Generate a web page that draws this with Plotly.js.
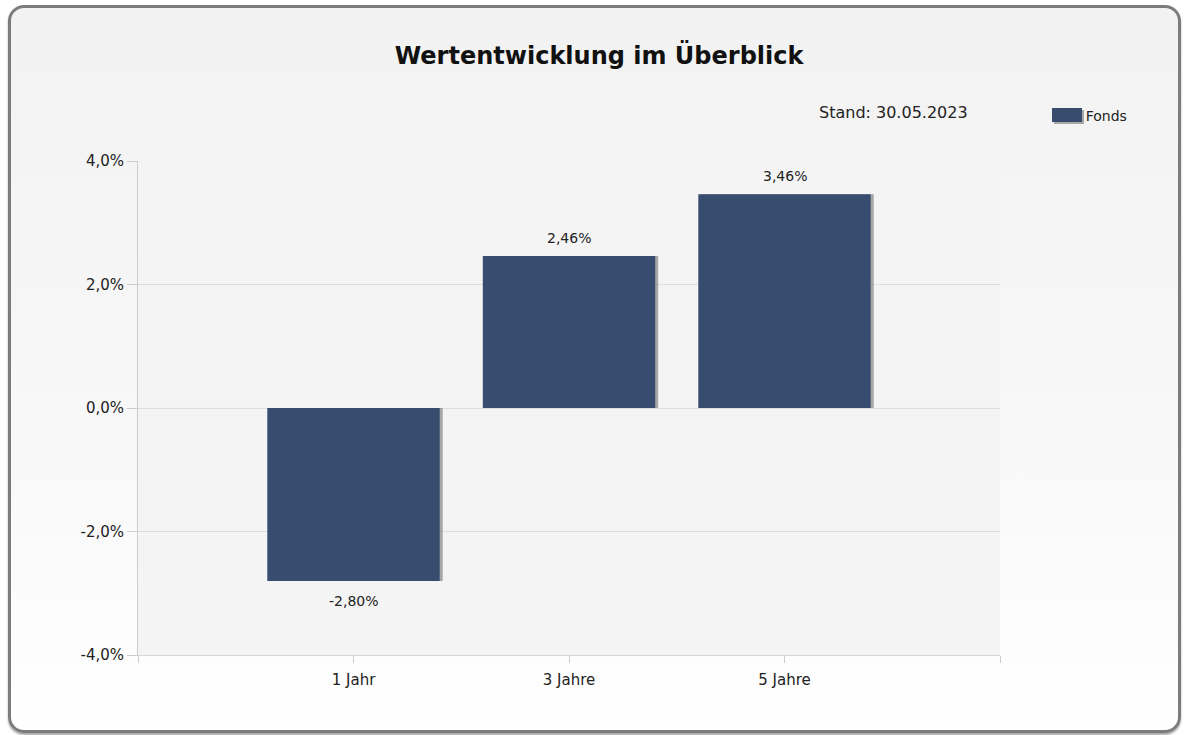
<!DOCTYPE html>
<html>
<head>
<meta charset="utf-8">
<script src="https://cdn.plot.ly/plotly-3.0.1.min.js"></script>
<style>
  html, body { margin: 0; padding: 0; background: #ffffff; }
  #frame {
    position: absolute; left: 8px; top: 5px; width: 1167px; height: 722px;
    border: 3px solid #7c7c7c; border-radius: 16px;
    background: linear-gradient(to bottom, #f2f2f2 0%, #f8f8f8 60%, #ffffff 100%);
    box-shadow: 0 2px 2px rgba(0,0,0,0.35);
  }
  #chart { position: absolute; left: 0; top: 0; width: 1184px; height: 735px; }
</style>
</head>
<body>
<div id="frame"></div>
<div id="chart"></div>
<script>
const categories = ['1 Jahr', '3 Jahre', '5 Jahre'];
const fondsValues = [-2.80, 2.46, 3.46];
const yTickValues = [-4, -2, 0, 2, 4];
const titleText = 'Wertentwicklung im Überblick';
const standText = 'Stand: 30.05.2023';
const seriesName = 'Fonds';

const xPos = categories.map((c, i) => i);
const deFmt = (v, d) => v.toFixed(d).replace('.', ',') + '%';
const yTickText = yTickValues.map(v => deFmt(v, 1));

const barColor = '#374c6e';
const shadow = {
  type: 'bar', x: xPos, y: fondsValues, width: 0.8, offset: -0.386,
  marker: { color: 'rgba(90,90,90,0.5)', line: { width: 0 } },
  showlegend: false, hoverinfo: 'skip'
};
const fonds = {
  type: 'bar', name: seriesName, x: xPos, y: fondsValues, width: 0.8,
  marker: { color: barColor, line: { width: 0 } }
};

const labelAnnotations = fondsValues.map((v, i) => ({
  x: xPos[i], y: v, xref: 'x', yref: 'y',
  text: deFmt(v, 2), showarrow: false,
  yanchor: v >= 0 ? 'bottom' : 'top', yshift: v >= 0 ? 8 : -10,
  font: { family: 'DejaVu Sans', size: 14, color: '#222222' }
}));

const px2x = px => (px - 138) / 862;
const px2y = py => (655 - py) / 494;

const layout = {
  width: 1184, height: 735,
  margin: { l: 138, r: 184, t: 161, b: 80 },
  paper_bgcolor: 'rgba(0,0,0,0)',
  plot_bgcolor: '#f4f4f4',
  barmode: 'overlay',
  font: { family: 'DejaVu Sans', size: 15, color: '#222222' },
  title: {
    text: '<b>' + titleText + '</b>',
    font: { family: 'DejaVu Sans', size: 24, color: '#111111' },
    xref: 'container', x: 0.506, xanchor: 'center',
    yref: 'container', y: 0.925, yanchor: 'middle'
  },
  xaxis: {
    range: [-1, 3], showgrid: false, zeroline: false,
    tickvals: [-1].concat(xPos, [3]),
    ticktext: [''].concat(categories, ['']),
    ticks: 'outside', ticklen: 7, tickcolor: '#cccccc',
    ticklabelstandoff: 4,
    showline: true, linecolor: '#d4d4d4', linewidth: 1,
    tickfont: { family: 'DejaVu Sans', size: 15, color: '#222222' },
    fixedrange: true
  },
  yaxis: {
    range: [-4, 4], tickvals: yTickValues, ticktext: yTickText,
    showgrid: true, gridcolor: '#dedede', gridwidth: 1,
    zeroline: true, zerolinecolor: '#dedede', zerolinewidth: 1,
    ticks: 'outside', ticklen: 10, tickcolor: '#cccccc',
    showline: true, linecolor: '#cccccc', linewidth: 1,
    tickfont: { family: 'DejaVu Sans', size: 15, color: '#222222' },
    fixedrange: true
  },
  showlegend: true,
  legend: {
    x: 1.053, xanchor: 'left', y: px2y(100), yanchor: 'top',
    bgcolor: 'rgba(255,255,255,0)',
    font: { family: 'DejaVu Sans', size: 14, color: '#222222' }
  },
  shapes: [
    { type: 'rect', xref: 'paper', yref: 'paper', layer: 'above',
      x0: px2x(1054), x1: px2x(1084), y0: px2y(110), y1: px2y(124),
      fillcolor: 'rgba(90,90,90,0.5)', line: { width: 0 } },
    { type: 'rect', xref: 'paper', yref: 'paper', layer: 'above',
      x0: px2x(1052), x1: px2x(1082), y0: px2y(108), y1: px2y(122),
      fillcolor: barColor, line: { width: 0 } }
  ],
  annotations: labelAnnotations.concat([{
    text: standText, xref: 'paper', yref: 'paper', x: px2x(970), y: px2y(113),
    xanchor: 'right', yanchor: 'middle', showarrow: false,
    font: { family: 'DejaVu Sans', size: 16, color: '#222222' }
  }])
};

Plotly.newPlot('chart', [shadow, fonds], layout, { displayModeBar: false, staticPlot: true });
</script>
</body>
</html>
